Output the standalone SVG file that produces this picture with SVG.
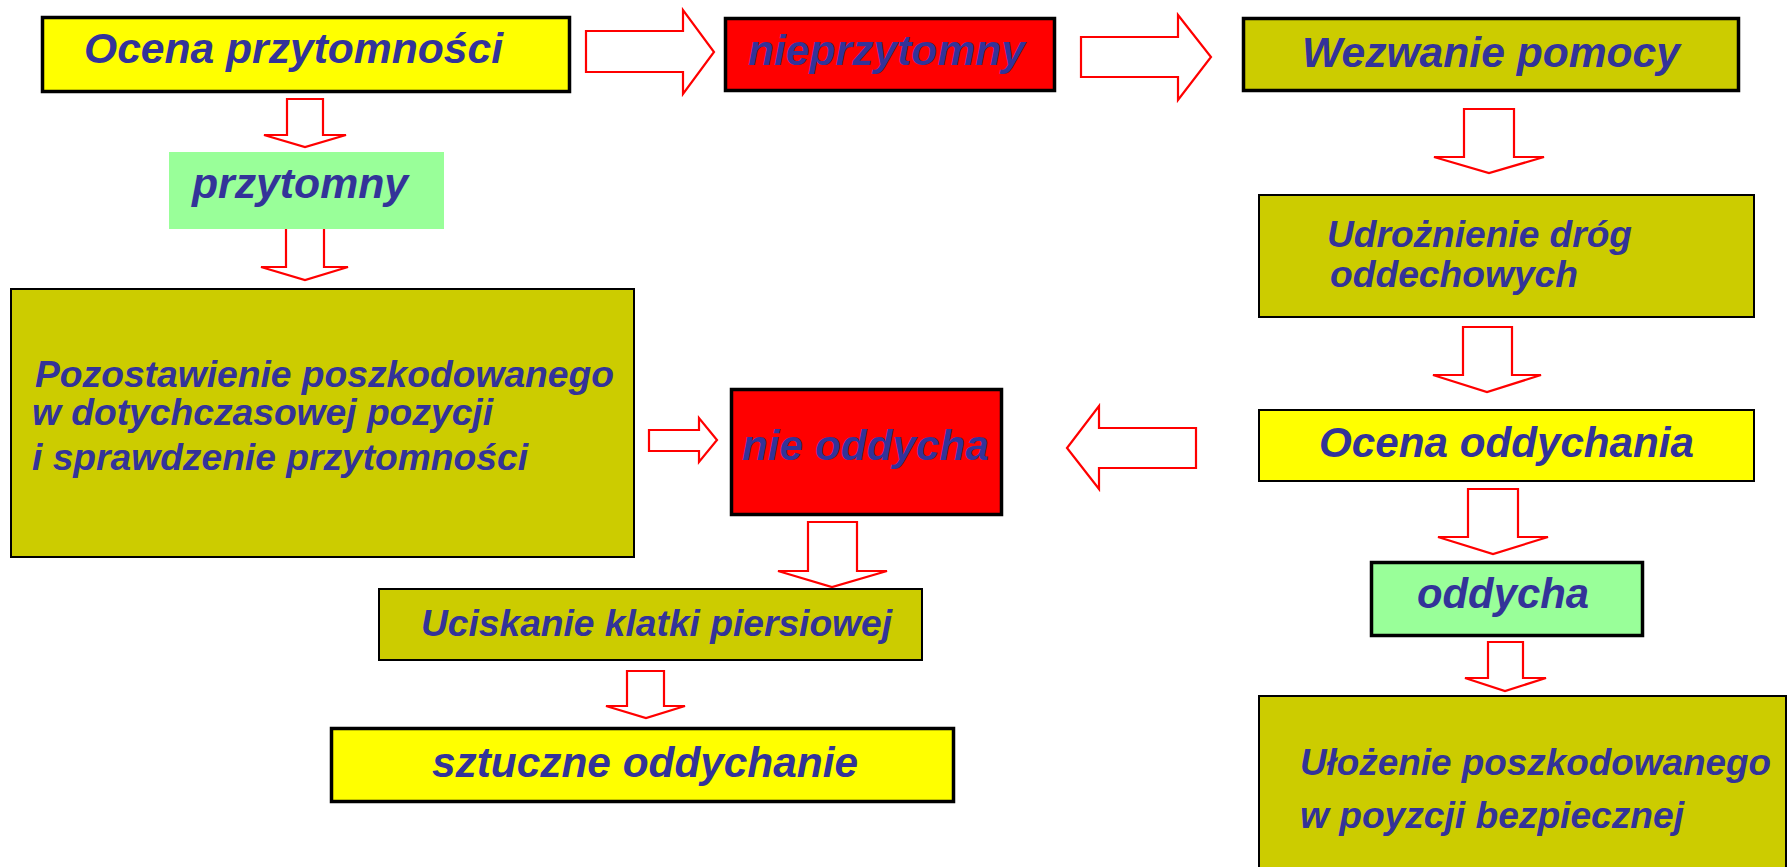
<svg xmlns="http://www.w3.org/2000/svg" width="1791" height="867" viewBox="0 0 1791 867">
<style>
.t{font-family:"Liberation Sans",Arial,sans-serif;font-weight:bold;font-style:italic;fill:#333399}
.f42{font-size:42px}
.f37{font-size:37px}
.yel{fill:#FFFF00;stroke:#000}
.red{fill:#FF0000;stroke:#000}
.olv{fill:#CCCC00;stroke:#000}
.grn{fill:#99FF99;stroke:#000}
.thick{stroke-width:3.5}
.thin{stroke-width:2}
.arr{fill:#fff;stroke:#FF0000;stroke-width:2.2;stroke-linejoin:miter}
</style>
<rect width="1791" height="867" fill="#fff"/>

<g id="connectors">
<polygon class="arr" points="586,31 683,31 683,10 714,52 683,94 683,72 586,72"/>
<polygon class="arr" points="1081,37 1178,37 1178,15 1211,57 1178,100 1178,77 1081,77"/>
<polygon class="arr" points="287,99 323,99 323,135 346,135 305,147 264,135 287,135"/>
<polygon class="arr" points="286,228 324,228 324,267 348,267 305,280 261,267 286,267"/>
<polygon class="arr" points="1464,109 1514,109 1514,157 1544,157 1489,173 1434,157 1464,157"/>
<polygon class="arr" points="1463,327 1512,327 1512,375 1541,375 1487,392 1433,375 1463,375"/>
<polygon class="arr" points="1468,489 1518,489 1518,537 1548,537 1493,554 1438,537 1468,537"/>
<polygon class="arr" points="1488,642 1523,642 1523,678 1546,678 1505,691 1465,678 1488,678"/>
<polygon class="arr" points="1196,428 1099,428 1099,406 1067,448 1099,489 1099,468 1196,468"/>
<polygon class="arr" points="649,430 699,430 699,418 717,440 699,462 699,451 649,451"/>
<polygon class="arr" points="808,522 857,522 857,571 887,571 832,587 778,571 808,571"/>
<polygon class="arr" points="627,671 664,671 664,706 685,706 646,718 606,706 627,706"/>
</g>

<g id="n1">
<rect class="yel thick" x="42.5" y="17.5" width="527" height="74"/>
<text class="t f42" x="84" y="63" textLength="419" lengthAdjust="spacingAndGlyphs">Ocena przytomności</text>
</g>
<g id="n2">
<rect class="red thick" x="725.5" y="18.5" width="329" height="72"/>
<text class="t f42" x="748" y="65" textLength="277" lengthAdjust="spacingAndGlyphs">nieprzytomny</text>
</g>
<g id="n3">
<rect class="olv thick" x="1243.5" y="18.5" width="495" height="72"/>
<text class="t f42" x="1302" y="67" textLength="378" lengthAdjust="spacingAndGlyphs">Wezwanie pomocy</text>
</g>
<g id="n4">
<rect x="169" y="152" width="275" height="77" fill="#99FF99"/>
<text class="t f42" x="192" y="198" textLength="216" lengthAdjust="spacingAndGlyphs">przytomny</text>
</g>
<g id="n5">
<rect class="olv thin" x="1259" y="195" width="495" height="122"/>
<text class="t f37" x="1327" y="247" textLength="305" lengthAdjust="spacingAndGlyphs">Udrożnienie dróg</text>
<text class="t f37" x="1330" y="287" textLength="248" lengthAdjust="spacingAndGlyphs">oddechowych</text>
</g>
<g id="n6">
<rect class="olv thin" x="11" y="289" width="623" height="268"/>
<text class="t f37" x="35" y="387" textLength="579" lengthAdjust="spacingAndGlyphs">Pozostawienie poszkodowanego</text>
<text class="t f37" x="32" y="425" textLength="461" lengthAdjust="spacingAndGlyphs">w dotychczasowej pozycji</text>
<text class="t f37" x="32" y="470" textLength="496" lengthAdjust="spacingAndGlyphs">i sprawdzenie przytomności</text>
</g>
<g id="n7">
<rect class="red thick" x="731.5" y="389.5" width="270" height="125"/>
<text class="t f42" x="742" y="460" textLength="247" lengthAdjust="spacingAndGlyphs">nie oddycha</text>
</g>
<g id="n8">
<rect class="yel thin" x="1259" y="410" width="495" height="71"/>
<text class="t f42" x="1319" y="457" textLength="375" lengthAdjust="spacingAndGlyphs">Ocena oddychania</text>
</g>
<g id="n9">
<rect class="grn thick" x="1371.5" y="562.5" width="271" height="73"/>
<text class="t f42" x="1417" y="608" textLength="172" lengthAdjust="spacingAndGlyphs">oddycha</text>
</g>
<g id="n10">
<rect class="olv thin" x="379" y="589" width="543" height="71"/>
<text class="t f37" x="421" y="636" textLength="471" lengthAdjust="spacingAndGlyphs">Uciskanie klatki piersiowej</text>
</g>
<g id="n11">
<rect class="yel thick" x="331.5" y="728.5" width="622" height="73"/>
<text class="t f42" x="432" y="777" textLength="426" lengthAdjust="spacingAndGlyphs">sztuczne oddychanie</text>
</g>
<g id="n12">
<rect class="olv thin" x="1259" y="696" width="527" height="180"/>
<text class="t f37" x="1300" y="775" textLength="471" lengthAdjust="spacingAndGlyphs">Ułożenie poszkodowanego</text>
<text class="t f37" x="1300" y="828" textLength="384" lengthAdjust="spacingAndGlyphs">w poyzcji bezpiecznej</text>
</g>
</svg>
